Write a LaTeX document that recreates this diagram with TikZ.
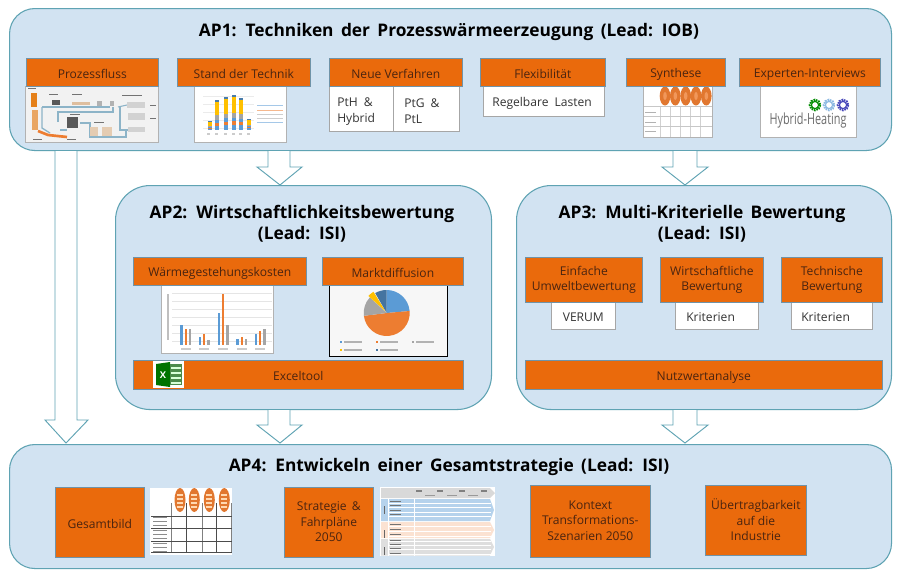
\documentclass[tikz,border=0pt]{standalone}
\usepackage{fontspec}
\setmainfont{Open Sans}
\definecolor{apfill}{HTML}{D2E3F2}
\definecolor{apline}{HTML}{5FA3B3}
\definecolor{orng}{HTML}{EA6A0C}
\definecolor{orngline}{HTML}{6F93A8}
\definecolor{cblue}{HTML}{5B9BD5}
\definecolor{corange}{HTML}{ED7D31}
\definecolor{cgray}{HTML}{A5A5A5}
\definecolor{cyellow}{HTML}{FFC000}
\definecolor{pipe}{HTML}{8DB4C8}
\definecolor{txt}{HTML}{4A2410}
\tikzset{
 x=0.75pt,y=-0.75pt,
 apbox/.style={draw=apline,fill=apfill,line width=0.8pt,rounded corners=19pt},
 head/.style={font=\bfseries\fontsize{13}{15.8}\selectfont,text=black,align=center,inner sep=0pt},
 obox/.style={draw=orngline,fill=orng,line width=0.5pt,inner sep=0pt,align=center,text=txt,font=\fontsize{9.05}{11.5}\selectfont,execute at begin node={\rule[-1pt]{0pt}{11pt}}},
 wbox/.style={draw=gray!70,fill=white,line width=0.5pt,inner sep=0pt,align=left,text=black!80,font=\fontsize{9.05}{12}\selectfont,execute at begin node={\rule[-1pt]{0pt}{11pt}}},
 imgbox/.style={draw=gray!60,fill=white,line width=0.4pt,inner sep=0pt},
 blockarrow/.style={draw=apline,fill=white,line width=0.7pt},
}
\begin{document}
\begin{tikzpicture}
\useasboundingbox (0,0) rectangle (900,572);
\fill[white] (0,0) rectangle (900,572);
% AP boxes
\node[apbox,anchor=north west,minimum width=882*0.75pt,minimum height=142*0.75pt,inner sep=0pt] (ap1) at (9,8) {};
\node[apbox,anchor=north west,minimum width=376*0.75pt,minimum height=224*0.75pt,inner sep=0pt,rounded corners=26pt] (ap2) at (115,185) {};
\node[apbox,anchor=north west,minimum width=375*0.75pt,minimum height=224*0.75pt,inner sep=0pt,rounded corners=26pt] (ap3) at (516,185) {};
\node[apbox,anchor=north west,minimum width=882*0.75pt,minimum height=124*0.75pt,inner sep=0pt] (ap4) at (9,444) {};
% block arrows
\draw[blockarrow] (55,151) -- (55,420) -- (45,420) -- (66,443) -- (88,420) -- (77,420) -- (77,151);
\draw[blockarrow] (268,151) -- (268,167) -- (257,167) -- (280,185) -- (302,167) -- (290,167) -- (290,151);
\draw[blockarrow] (673,151) -- (673,167) -- (662,167) -- (685,185) -- (708,167) -- (697,167) -- (697,151);
\draw[blockarrow] (268,410) -- (268,425) -- (257,425) -- (280,443) -- (302,425) -- (290,425) -- (290,410);
\draw[blockarrow] (673,410) -- (673,425) -- (662,425) -- (685,443) -- (708,425) -- (697,425) -- (697,410);
% headings
\node[head] (h1) at (449,31.5) {AP1:\, Techniken\, der\, Prozesswärmeerzeugung\, (Lead:\, IOB)};
\node[head] (h2) at (302,223.5) {AP2:\, Wirtschaftlichkeitsbewertung\\(Lead:\, ISI)};
\node[head] (h3) at (702,223.5) {AP3:\, Multi-Kriterielle\, Bewertung\\(Lead:\, ISI)};
\node[head] (h4) at (449,466.5) {AP4:\, Entwickeln\, einer\, Gesamtstrategie\, (Lead:\, ISI)};
% --- AP1 images
\node[imgbox,anchor=north west,minimum width=133*0.75pt,minimum height=56*0.75pt,fill=black!5] (i1) at (25,86) {};
\draw[pipe,line width=1pt] (42,107) -- (42,128) -- (50,133);
\draw[pipe,line width=1pt] (42,107) -- (110,107);
\draw[pipe,line width=1pt] (58,122) -- (58,112) -- (113,112) -- (113,107);
\draw[pipe,line width=1pt] (80,123) -- (90,123) -- (90,137) -- (126,137) -- (126,130);
\draw[pipe,line width=1pt] (60,130) -- (67,130);
\draw[pipe,line width=0.8pt] (118,107) -- (127,105);
\draw[pipe,line width=0.8pt] (120,107) -- (120,130) -- (128,130);
\fill[orange!60!brown] (31,93) rectangle (37,107);
\fill[orange!50!brown!70] (32,110) rectangle (38,130);
\draw[corange,line width=2pt] (38,131) -- (48,135) -- (67,137);
\fill[gray!70!black] (67,117) rectangle (78,128);
\fill[gray!70!black] (52,100) rectangle (60,105);
\fill[brown!50!white] (72,102) rectangle (90,105);
\fill[gray!60] (97,101) rectangle (102,106);
\fill[gray!60] (110,101) rectangle (114,106);
\fill[gray!35] (127,102) rectangle (145,108);
\fill[gray!35] (128,113) rectangle (145,120);
\fill[gray!35] (128,127) rectangle (145,132);
\fill[brown!40!white] (90,127) rectangle (98,136);
\fill[brown!40!white] (102,127) rectangle (112,136);
\foreach \xa/\xb/\yy in {28/36/88,49/58/94,72/82/94,122/142/95,70/80/114,94/104/122,33/42/139,67/76/139,150/156/105,150/156/118}{\fill[black!55] (\xa,\yy) rectangle (\xb,\yy+1.3);}
\node[imgbox,anchor=north west,minimum width=92*0.75pt,minimum height=56*0.75pt] (i2) at (194,86) {};
\foreach \yy in {96,104,112,120,128}{\draw[black!8,line width=0.3pt] (203,\yy) -- (254,\yy);}
\foreach \bxx/\h in {210/9,217/30,226/33,234/35,241/32,249/11}{
  \fill[cblue] (\bxx-1.7,130) rectangle (\bxx+1.7,130-\h*0.15);
  \fill[corange] (\bxx-1.7,130-\h*0.15) rectangle (\bxx+1.7,130-\h*0.25);
  \fill[cblue] (\bxx-1.7,130-\h*0.25) rectangle (\bxx+1.7,130-\h*0.35);
  \fill[cgray] (\bxx-1.7,130-\h*0.35) rectangle (\bxx+1.7,130-\h*0.5);
  \fill[cyellow] (\bxx-1.7,130-\h*0.5) rectangle (\bxx+1.7,130-\h*0.93);
  \fill[cblue!80!black] (\bxx-1.7,130-\h*0.93) rectangle (\bxx+1.7,130-\h);
}
\foreach \yy/\c in {105/cblue,110/corange,114/cgray,118/cgray,122/cblue}{\fill[\c!55!white] (257,\yy) rectangle (283,\yy+1);}
\foreach \xx in {209,217,226,234,241,249}{\fill[black!20] (\xx-2,133) rectangle (\xx+1,135);}
% Neue Verfahren boxes
\node[wbox,anchor=north west,minimum width=64*0.75pt,minimum height=45*0.75pt,text width=48*0.75pt] (pth) at (329,86) {PtH \,\&\\Hybrid};
\node[wbox,anchor=north west,minimum width=66*0.75pt,minimum height=45*0.75pt,text width=44*0.75pt] (ptg) at (393,86) {PtG \,\&\\PtL};
\node[wbox,anchor=north west,minimum width=121*0.75pt,minimum height=30*0.75pt,text width=103*0.75pt] (reg) at (483,86) {Regelbare\, Lasten};
% Synthese image
\node[imgbox,anchor=north west,minimum width=69*0.75pt,minimum height=51*0.75pt] (i3) at (643,86) {};
\foreach \xx in {660,670,680.7,690.7,700.7}{\draw[black!18] (\xx,106) -- (\xx,137);}
\foreach \yy in {106.7,116.7,126.7}{\draw[black!22] (644,\yy) -- (712,\yy);}
\foreach \yy in {112,122,131}{\fill[black!30] (645,\yy) rectangle (656,\yy+1);}
\foreach \xx in {665,675.3,685.7,696,706.3}{\fill[corange!95!black] (\xx,96) ellipse [x radius=5.3,y radius=9.5];
 \fill[corange!80!white] (\xx,96) ellipse [x radius=1.8,y radius=4];}
% Hybrid image
\node[imgbox,anchor=north west,minimum width=96*0.75pt,minimum height=51*0.75pt] (i4) at (760,86) {};
\foreach \xx/\c in {815/green!55!black,829/cblue!70!white,843/blue!45!gray}{
  \draw[\c,line width=1.5pt,dash pattern=on 1.2pt off 0.7pt] (\xx,105) circle (5.3);
  \draw[\c,line width=0.9pt] (\xx,105) circle (3.6);}
\node[inner sep=0pt,text=gray!85!black,font=\fontsize{11.5}{12}\selectfont] (hh) at (808,121) {\addfontfeature{FakeStretch=0.71}Hybrid-Heating};
% orange AP1
\node[obox,anchor=north west,minimum width=132*0.75pt,minimum height=28*0.75pt] (o1) at (26,58) {Prozessfluss};
\node[obox,anchor=north west,minimum width=133*0.75pt,minimum height=28*0.75pt] (o2) at (177,58) {Stand der Technik};
\node[obox,anchor=north west,minimum width=133*0.75pt,minimum height=28*0.75pt] (o3) at (329,58) {Neue Verfahren};
\node[obox,anchor=north west,minimum width=125*0.75pt,minimum height=28*0.75pt] (o4) at (480,58) {Flexibilität};
\node[obox,anchor=north west,minimum width=99*0.75pt,minimum height=28*0.75pt] (o5) at (626,58) {Synthese};
\node[obox,anchor=north west,minimum width=141*0.75pt,minimum height=28*0.75pt] (o6) at (739,58) {Experten-Interviews};
% --- AP2
\node[imgbox,anchor=north west,minimum width=112*0.75pt,minimum height=68*0.75pt] (i5) at (161,285) {};
\foreach \yy in {293,301,309,317,325,333,341}{\draw[black!10,line width=0.3pt] (172,\yy) -- (272,\yy);}
\foreach \xx/\a/\b/\c in {181.7/325.3/328.7/328.7,200/336.7/334/340,219/312.7/294/325.3,237.7/339.3/336.7/339.3,256/334/331/328.7}{
  \fill[cblue] (\xx-1.3,345) rectangle (\xx+1.3,\a);
  \fill[corange] (\xx+2.8,345) rectangle (\xx+5.4,\b);
  \fill[cgray] (\xx+6.9,345) rectangle (\xx+9.5,\c);
  \fill[black!20] (\xx-1,348) rectangle (\xx+9,349.5);
}
\fill[black!25] (167,294) rectangle (168.5,340);
\node[anchor=north west,minimum width=118*0.75pt,minimum height=71*0.75pt,inner sep=0pt,draw=black,fill=black!3,line width=0.7pt] (i6) at (329,285) {};
\begin{scope}[shift={(386.7,313)},x=0.75pt,y=0.75pt]
\fill[cblue] (0,0) -- (90:23) arc[start angle=90,end angle=5,radius=23] -- cycle;
\fill[corange] (0,0) -- (5:23) arc[start angle=5,end angle=-173,radius=23] -- cycle;
\fill[cgray] (0,0) -- (187:23) arc[start angle=187,end angle=137,radius=23] -- cycle;
\fill[cyellow] (-1,1.5) -- (137:25) arc[start angle=137,end angle=122,radius=25] -- cycle;
\fill[cblue!75!black] (0,0) -- (120:23) arc[start angle=120,end angle=90,radius=23] -- cycle;
\end{scope}
\foreach \xx/\yy/\c in {340/341/cblue,376/341/corange,411.7/341/cgray,340/349/cyellow,376/349/cblue!75!black}{\fill[\c] (\xx,\yy) rectangle (\xx+2,\yy+2);\fill[black!30] (\xx+4,\yy) rectangle (\xx+22,\yy+2);}
\node[obox,anchor=north west,minimum width=173*0.75pt,minimum height=28*0.75pt] (o7) at (133,257) {Wärmegestehungskosten};
\node[obox,anchor=north west,minimum width=141*0.75pt,minimum height=28*0.75pt] (o8) at (322,257) {Marktdiffusion};
\node[obox,anchor=north west,minimum width=330*0.75pt,minimum height=29*0.75pt] (o9) at (133,360) {Exceltool};
\fill[white] (153,361) rectangle (184,388);
\fill[green!45!black] (156,364) -- (170,362) -- (170,387) -- (156,385) -- cycle;
\fill[green!35!black!70] (170,364) rectangle (182,385);
\foreach \yy in {367,372,377,382}{\fill[white!85!green] (171,\yy) rectangle (181,\yy+2);}
\node[inner sep=0pt,text=white,font=\bfseries\fontsize{7}{7}\selectfont] (xl) at (163,375) {X};
% --- AP3
\node[wbox,anchor=north west,minimum width=64*0.75pt,minimum height=27*0.75pt,align=center] (w1) at (551,302) {VERUM};
\node[wbox,anchor=north west,minimum width=83*0.75pt,minimum height=27*0.75pt,text width=61*0.75pt] (w2) at (675,302) {Kriterien};
\node[wbox,anchor=north west,minimum width=81*0.75pt,minimum height=27*0.75pt,text width=61*0.75pt] (w3) at (791,302) {Kriterien};
\node[obox,anchor=north west,minimum width=117*0.75pt,minimum height=45*0.75pt] (o10) at (525,257) {Einfache\\Umweltbewertung};
\node[obox,anchor=north west,minimum width=103*0.75pt,minimum height=45*0.75pt] (o11) at (660,257) {Wirtschaftliche\\Bewertung};
\node[obox,anchor=north west,minimum width=101*0.75pt,minimum height=45*0.75pt] (o12) at (781,257) {Technische\\Bewertung};
\node[obox,anchor=north west,minimum width=357*0.75pt,minimum height=29*0.75pt] (o13) at (525,360) {Nutzwertanalyse};
% --- AP4
\node[obox,anchor=north west,minimum width=89*0.75pt,minimum height=70*0.75pt] (o14) at (55,487) {Gesamtbild};
\node[anchor=north west,minimum width=82*0.75pt,minimum height=67*0.75pt,inner sep=0pt,fill=white] (i7) at (150,488) {};
\foreach \xx/\c in {171.7/gray,186.7/black!70,202.3/gray,216.7/black!70,231.7/gray}{\draw[\c,line width=0.6pt] (\xx,503) -- (\xx,553);}
\foreach \yy in {516,528.3,541,552.7}{\draw[black!70,line width=0.6pt] (151,\yy) -- (232,\yy);}
\foreach \xx in {180,194.3,209.3,224.3}{\fill[corange!95!black] (\xx,500) ellipse [x radius=5.5,y radius=12];
 \foreach \yy in {494,498,502,506}{\fill[white!70!orange] (\xx-3,\yy) rectangle (\xx+3,\yy+1.8);}}
\foreach \yy in {517,521,525,530,534,538,543,547,551}{\fill[black!45] (153,\yy) rectangle (167,\yy+1);}
\node[obox,anchor=north west,minimum width=89*0.75pt,minimum height=70*0.75pt] (o15) at (284,487) {Strategie \,\&\\Fahrpläne\\2050};
\node[anchor=north west,minimum width=115*0.75pt,minimum height=69*0.75pt,inner sep=0pt,fill=white] (i8) at (380,487) {};
\fill[black!15] (381,488) -- (490,488) -- (495,493) -- (490,498) -- (381,498) -- cycle;
\fill[cblue!45!white] (381,499) -- (490,499) -- (494,510) -- (490,521) -- (381,521) -- cycle;
\fill[corange!22!white] (381,522) -- (490,522) -- (494,530) -- (490,538) -- (381,538) -- cycle;
\fill[black!13] (381,539) -- (490,539) -- (494,547) -- (490,555.5) -- (381,555.5) -- cycle;
\foreach \yy in {503,507.5,512,516.5,526,531,536,541,545,549.5,554}{\draw[white,line width=0.6pt] (389,\yy) -- (491,\yy);}
\foreach \yy in {501,505,509.5,514,524,529,534,540,544,548,552.5}{\fill[black!55] (390,\yy) rectangle (401,\yy+1.2);}
\foreach \yy in {506,530,547}{\fill[black!60] (384,\yy) rectangle (385.2,\yy+8);}
\draw[white,line width=0.7pt] (388,499) -- (388,555.5);
\draw[white,line width=0.7pt] (414,499) -- (414,555.5);
\foreach \xx in {416,437,459,481}{\fill[black!50] (\xx,490) rectangle (\xx+6,491.5);}
\foreach \xx in {425,447,468}{\fill[black!40] (\xx,495) rectangle (\xx+10,496.3);}
\node[obox,anchor=north west,minimum width=120*0.75pt,minimum height=72*0.75pt] (o16) at (530,485) {Kontext\\Transformations-\\Szenarien 2050};
\node[obox,anchor=north west,minimum width=101*0.75pt,minimum height=70*0.75pt] (o17) at (705,485) {Übertragbarkeit\\auf die\\Industrie};
\end{tikzpicture}
\end{document}
